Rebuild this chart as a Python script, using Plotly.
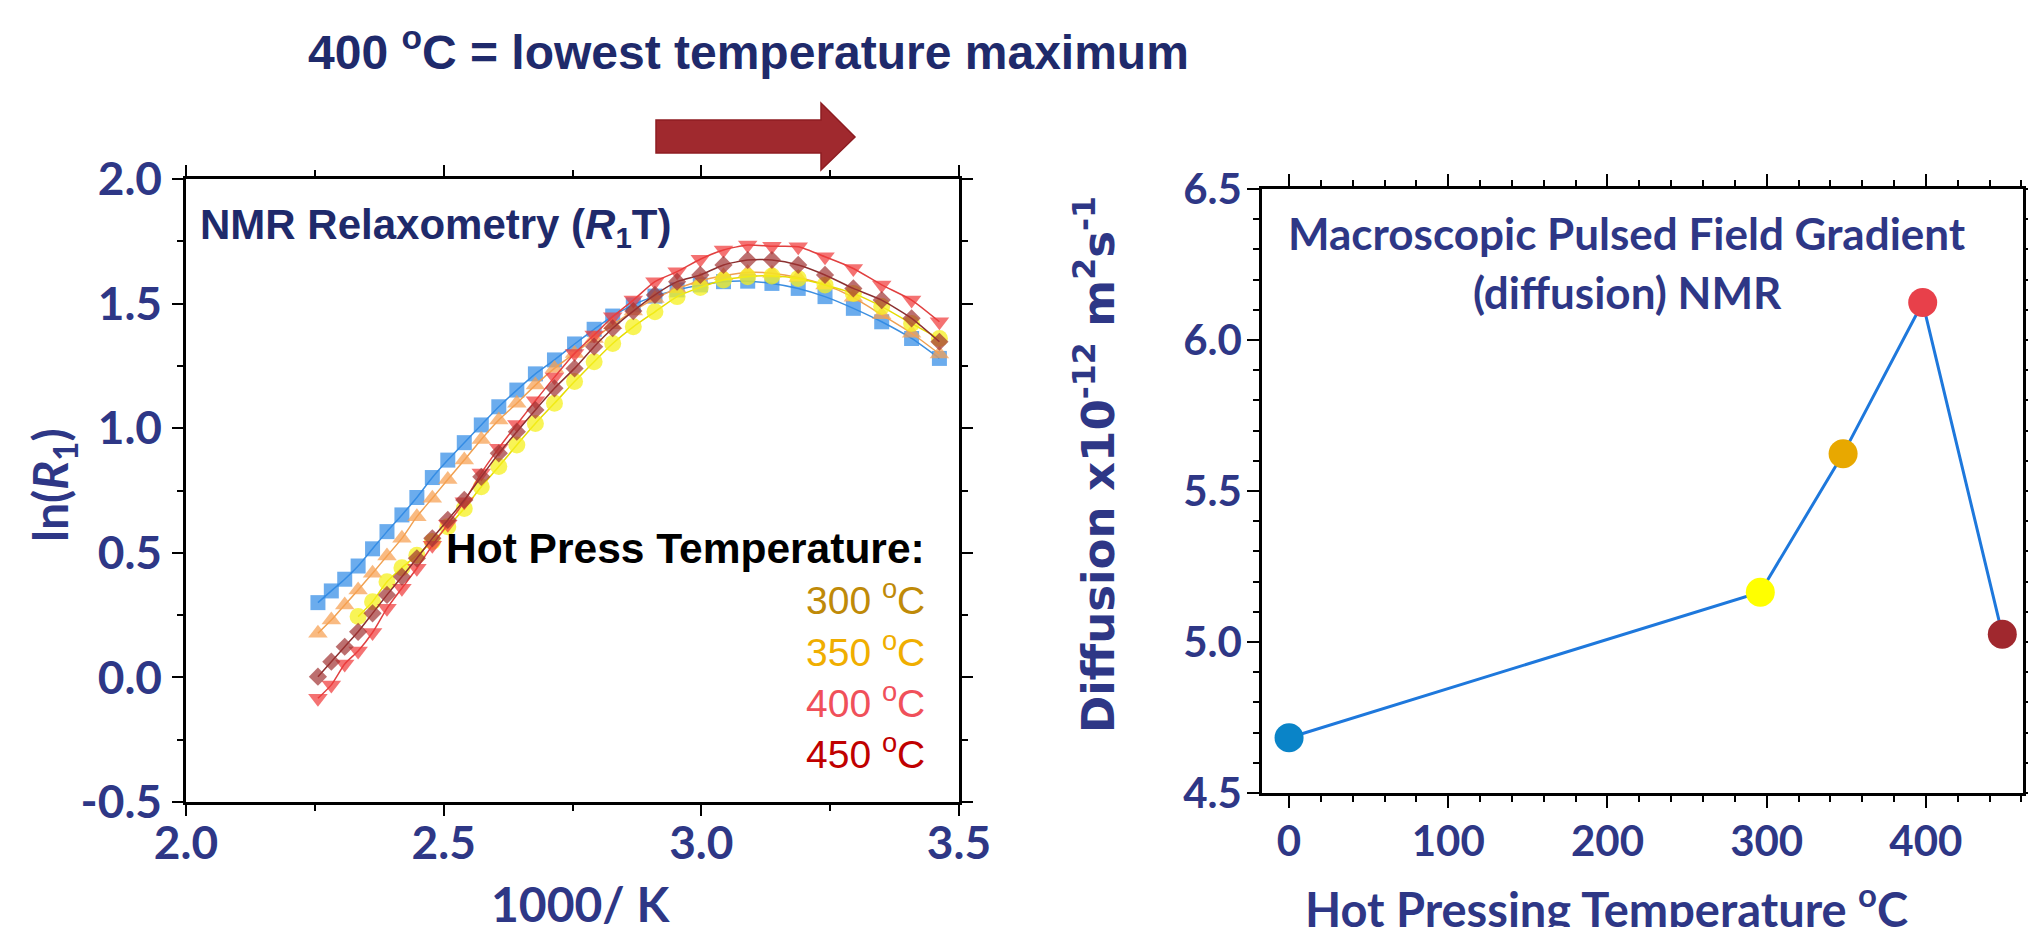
import plotly.graph_objects as go

W, H = 2028, 927

# ---------------- data: left panel (NMR relaxometry) ----------------
inv_T = [2.256, 2.282, 2.308, 2.334, 2.362, 2.390, 2.419, 2.448, 2.478, 2.508,
         2.540, 2.573, 2.607, 2.642, 2.678, 2.715, 2.754, 2.792, 2.828, 2.868,
         2.910, 2.953, 2.998, 3.043, 3.090, 3.137, 3.188, 3.240, 3.295, 3.350,
         3.408, 3.462]
lnR1_blue = [0.300, 0.347, 0.394, 0.447, 0.516, 0.585, 0.652, 0.722, 0.802, 0.872,
             0.942, 1.013, 1.086, 1.153, 1.218, 1.274, 1.338, 1.397, 1.450, 1.495,
             1.530, 1.555, 1.575, 1.588, 1.590, 1.581, 1.561, 1.528, 1.481, 1.427,
             1.360, 1.280]
lnR1_orange = [0.177, 0.230, 0.291, 0.351, 0.418, 0.487, 0.558, 0.645, 0.719, 0.794,
               0.872, 0.955, 1.033, 1.100, 1.173, 1.240, 1.300, 1.360, 1.415, 1.470,
               1.520, 1.560, 1.592, 1.612, 1.625, 1.622, 1.605, 1.575, 1.525, 1.455,
               1.381, 1.298]
inv_T_yellow = inv_T[3:]
lnR1_yellow = [0.244, 0.304, 0.384, 0.440, 0.490, 0.545, 0.605, 0.678, 0.765, 0.846,
               0.933, 1.019, 1.100, 1.187, 1.267, 1.340, 1.407, 1.467, 1.528, 1.565,
               1.595, 1.608, 1.611, 1.601, 1.575, 1.541, 1.488, 1.420, 1.360]
lnR1_red = [-0.084, -0.030, 0.054, 0.106, 0.180, 0.277, 0.358, 0.438, 0.530, 0.615,
            0.705, 0.820, 0.920, 1.015, 1.110, 1.205, 1.300, 1.374, 1.447, 1.514,
            1.588, 1.628, 1.678, 1.715, 1.735, 1.730, 1.728, 1.688, 1.641, 1.575,
            1.514, 1.427]
lnR1_brown = [0.003, 0.063, 0.123, 0.183, 0.257, 0.331, 0.404, 0.478, 0.558, 0.632,
              0.712, 0.805, 0.899, 0.986, 1.073, 1.160, 1.240, 1.327, 1.401, 1.470,
              1.535, 1.588, 1.615, 1.655, 1.675, 1.675, 1.655, 1.615, 1.561, 1.514,
              1.441, 1.347]

left_y_tickvals = [-0.5, 0.0, 0.5, 1.0, 1.5, 2.0]
left_y_ticktext = ["-0.5", "0.0", "0.5", "1.0", "1.5", "2.0"]

legend_labels = ["300 <sup>o</sup>C", "350 <sup>o</sup>C", "400 <sup>o</sup>C", "450 <sup>o</sup>C"]
legend_colors = ["#BF8A08", "#F0AE00", "#F0505A", "#C00000"]

# ---------------- data: right panel (PFG diffusion) ----------------
hp_temp = [0, 296, 348, 398, 448]
diffusion = [4.683, 5.165, 5.623, 6.124, 5.026]
diff_colors = ["#0A84C8", "#FFFF00", "#E8A800", "#E8404A", "#A0282E"]

NAVY = "#1F2A6B"
NAVY2 = "#2E3786"


def px(x):
    return x / W


def py(y):
    return 1 - y / H


fig = go.Figure()

left_series = [
    (inv_T, lnR1_blue, "square", 15, "rgba(50,140,230,0.72)", "#3C8EE0"),
    (inv_T, lnR1_orange, "triangle-up", 17, "rgba(246,160,80,0.72)", "#F0A050"),
    (inv_T_yellow, lnR1_yellow, "circle", 17, "rgba(245,240,30,0.75)", "#E6DC00"),
    (inv_T, lnR1_red, "triangle-down", 17, "rgba(240,60,60,0.72)", "#E04040"),
    (inv_T, lnR1_brown, "diamond", 14, "rgba(160,50,50,0.70)", "#8B3030"),
]
for xs, ys, sym, sz, mcol, lcol in left_series:
    fig.add_trace(go.Scatter(
        x=xs, y=ys, mode="lines+markers", xaxis="x", yaxis="y",
        line=dict(color=lcol, width=1.5, shape="spline", smoothing=0.6),
        marker=dict(symbol=sym, size=sz, color=mcol, line=dict(width=0)),
        showlegend=False, hoverinfo="skip"))

fig.add_trace(go.Scatter(
    x=hp_temp, y=diffusion, mode="lines", xaxis="x2", yaxis="y2",
    line=dict(color="#1E78DC", width=3), showlegend=False, hoverinfo="skip"))
fig.add_trace(go.Scatter(
    x=hp_temp, y=diffusion, mode="markers", xaxis="x2", yaxis="y2",
    marker=dict(size=29, color=diff_colors, line=dict(width=0)),
    showlegend=False, hoverinfo="skip"))

axis_common = dict(showline=True, linecolor="black", linewidth=2.5, mirror="ticks",
                   ticks="outside", tickcolor="black", tickwidth=2, showgrid=False,
                   zeroline=False, automargin=False)

fig.update_layout(
    width=W, height=H, margin=dict(l=0, r=0, t=0, b=0, pad=0, autoexpand=False),
    paper_bgcolor="white", plot_bgcolor="white",
    xaxis=dict(domain=[px(186), px(959)], range=[2.0, 3.5], dtick=0.5, tick0=2.0,
               tickformat=".1f", ticklen=11, ticklabelstandoff=-12,
               minor=dict(dtick=0.25, ticks="outside", ticklen=6, tickcolor="black", tickwidth=2),
               tickfont=dict(family="Lato", size=46, color=NAVY2, weight="bold"),
               anchor="y", **axis_common),
    yaxis=dict(domain=[py(802), py(179)], range=[-0.5, 2.0],
               tickvals=left_y_tickvals, ticktext=left_y_ticktext,
               ticklen=11, ticklabelstandoff=1,
               minor=dict(dtick=0.25, ticks="outside", ticklen=6, tickcolor="black", tickwidth=2),
               tickfont=dict(family="Lato", size=46, color=NAVY2, weight="bold"),
               anchor="x", **axis_common),
    xaxis2=dict(domain=[px(1262), px(2023)], range=[-17, 461], dtick=100, tick0=0,
                ticklen=12, ticklabelstandoff=-2,
                minor=dict(dtick=20, ticks="outside", ticklen=6, tickcolor="black", tickwidth=2),
                tickfont=dict(family="Lato", size=42, color=NAVY2, weight="bold"),
                anchor="y2", **axis_common),
    yaxis2=dict(domain=[py(793), py(189)], range=[4.5, 6.5], dtick=0.5, tick0=4.5,
                tickformat=".1f", ticklen=12, ticklabelstandoff=-3,
                minor=dict(dtick=0.1, ticks="outside", ticklen=6, tickcolor="black", tickwidth=2),
                tickfont=dict(family="Lato", size=42, color=NAVY2, weight="bold"),
                anchor="x2", **axis_common),
)

ann = []


def add_text(text, x, y, size, color, family, weight="bold", xanchor="left",
             yanchor="middle", angle=0):
    ann.append(dict(text=text, x=px(x), y=py(y), xref="paper", yref="paper",
                    xanchor=xanchor, yanchor=yanchor, showarrow=False, textangle=angle,
                    font=dict(size=size, color=color, family=family, weight=weight)))


add_text("400 <sup>o</sup>C = lowest temperature maximum", 306, 49, 48, NAVY,
         "Liberation Sans")
add_text("NMR Relaxometry (<i>R</i><sub>1</sub>T)", 198, 228, 42, NAVY, "Liberation Sans")
add_text("Hot Press Temperature:", 927, 548, 42.5, "black", "Liberation Sans",
         xanchor="right")
for lab, col, yy in zip(legend_labels, legend_colors, [597, 649, 700, 751]):
    add_text(lab, 927, yy, 39, col, "Liberation Sans", weight="normal", xanchor="right")
add_text("1000/ K", 580, 903, 48, NAVY2, "Lato", xanchor="center")
add_text("ln(<i>R</i><sub>1</sub>)", 53, 485, 48, NAVY2, "Lato", xanchor="center", angle=-90)
add_text("Macroscopic Pulsed Field Gradient", 1627, 233, 44, NAVY2, "Lato",
         xanchor="center")
add_text("(diffusion) NMR", 1627, 292, 44, NAVY2, "Lato", xanchor="center")
add_text("Hot Pressing Temperature <sup>o</sup>C", 1606, 906, 47, NAVY2, "Lato",
         xanchor="center")
add_text("Diffusion x10<sup>-12</sup> m<sup>2</sup>s<sup>-1</sup>", 1095, 465, 45, NAVY2,
         "DejaVu Sans", xanchor="center", angle=-90)

fig.update_layout(annotations=ann)

# decorative arrow above the left panel
pts = [(656, 120), (821, 120), (821, 103), (855, 137), (821, 170), (821, 153), (656, 153)]
path = "M " + " L ".join(f"{px(a):.5f} {py(b):.5f}" for a, b in pts) + " Z"
fig.add_shape(type="path", path=path, xref="paper", yref="paper",
              fillcolor="#A0292E", line=dict(color="#8E1D22", width=1.5))

fig.write_html("out.html")
